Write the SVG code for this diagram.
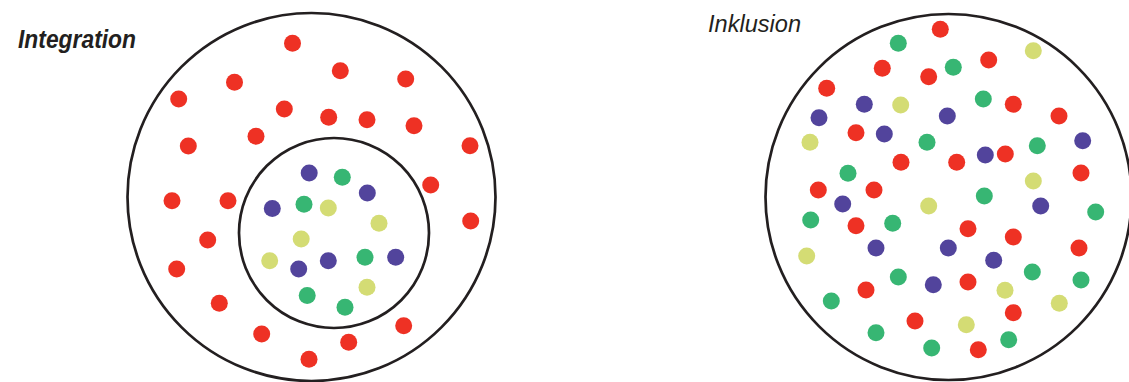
<svg xmlns="http://www.w3.org/2000/svg" width="1129" height="382" viewBox="0 0 1129 382">
<style>
.ring{fill:none;stroke:#231f20;stroke-width:2.7}
.r{fill:#ee3124}
.g{fill:#37b673}
.b{fill:#52449c}
.y{fill:#d4dc74}
.t{font-family:"Liberation Sans",Arial,sans-serif;fill:#231f20;font-style:italic}
</style>
<rect width="1129" height="382" fill="#ffffff"/>
<g id="integration">
<text class="t" x="18" y="48" font-size="26" font-weight="bold" textLength="118" lengthAdjust="spacingAndGlyphs">Integration</text>
<circle class="ring" cx="311.5" cy="197" r="184"/>
<circle class="ring" cx="334" cy="233" r="95"/>
<g id="int-red">
<circle class="r" cx="292.5" cy="43.3" r="8.5"/>
<circle class="r" cx="234.5" cy="82.3" r="8.5"/>
<circle class="r" cx="178.7" cy="99" r="8.5"/>
<circle class="r" cx="284.3" cy="109" r="8.5"/>
<circle class="r" cx="256" cy="136.2" r="8.5"/>
<circle class="r" cx="188.3" cy="146" r="8.5"/>
<circle class="r" cx="172" cy="200.8" r="8.5"/>
<circle class="r" cx="228" cy="200.8" r="8.5"/>
<circle class="r" cx="340.3" cy="70.7" r="8.5"/>
<circle class="r" cx="405.7" cy="79" r="8.5"/>
<circle class="r" cx="328.7" cy="117.3" r="8.5"/>
<circle class="r" cx="367" cy="119.7" r="8.5"/>
<circle class="r" cx="414" cy="125.7" r="8.5"/>
<circle class="r" cx="470" cy="145.7" r="8.5"/>
<circle class="r" cx="430.7" cy="185" r="8.5"/>
<circle class="r" cx="207.7" cy="240" r="8.5"/>
<circle class="r" cx="176.7" cy="269" r="8.5"/>
<circle class="r" cx="219.3" cy="303.3" r="8.5"/>
<circle class="r" cx="261.7" cy="334" r="8.5"/>
<circle class="r" cx="309" cy="359.3" r="8.5"/>
<circle class="r" cx="470.7" cy="221" r="8.5"/>
<circle class="r" cx="403.7" cy="325.7" r="8.5"/>
<circle class="r" cx="348.7" cy="342.3" r="8.5"/>
</g>
<g id="int-inner">
<circle class="b" cx="309.2" cy="173" r="8.5"/>
<circle class="b" cx="272.3" cy="208.5" r="8.5"/>
<circle class="b" cx="367.3" cy="193" r="8.5"/>
<circle class="b" cx="298.7" cy="269" r="8.5"/>
<circle class="b" cx="328.3" cy="260.7" r="8.5"/>
<circle class="b" cx="395.7" cy="257.3" r="8.5"/>
<circle class="g" cx="342.3" cy="177.3" r="8.5"/>
<circle class="g" cx="304" cy="204.2" r="8.5"/>
<circle class="g" cx="307.2" cy="295.5" r="8.5"/>
<circle class="g" cx="365" cy="257.3" r="8.5"/>
<circle class="g" cx="345" cy="307.3" r="8.5"/>
<circle class="y" cx="328.3" cy="208" r="8.5"/>
<circle class="y" cx="379" cy="223.3" r="8.5"/>
<circle class="y" cx="301.2" cy="239" r="8.5"/>
<circle class="y" cx="269.7" cy="260.7" r="8.5"/>
<circle class="y" cx="367" cy="287.3" r="8.5"/>
</g>
</g>
<g id="inklusion">
<text class="t" x="708" y="32" font-size="24" textLength="93" lengthAdjust="spacingAndGlyphs">Inklusion</text>
<circle class="ring" cx="948.5" cy="197" r="183"/>
<g id="ink-red">
<circle class="r" cx="940.3" cy="29.3" r="8.5"/>
<circle class="r" cx="882.3" cy="68.3" r="8.5"/>
<circle class="r" cx="928.7" cy="76.7" r="8.5"/>
<circle class="r" cx="988.7" cy="60" r="8.5"/>
<circle class="r" cx="826.7" cy="88.3" r="8.5"/>
<circle class="r" cx="856" cy="132.7" r="8.5"/>
<circle class="r" cx="1013.3" cy="104.3" r="8.5"/>
<circle class="r" cx="1059" cy="116" r="8.5"/>
<circle class="r" cx="901" cy="162.3" r="8.5"/>
<circle class="r" cx="956.7" cy="162.3" r="8.5"/>
<circle class="r" cx="1005.3" cy="154" r="8.5"/>
<circle class="r" cx="1081" cy="173" r="8.5"/>
<circle class="r" cx="818.3" cy="190" r="8.5"/>
<circle class="r" cx="874" cy="190" r="8.5"/>
<circle class="r" cx="856" cy="225.7" r="8.5"/>
<circle class="r" cx="968" cy="228.7" r="8.5"/>
<circle class="r" cx="1013.3" cy="237" r="8.5"/>
<circle class="r" cx="1079" cy="248" r="8.5"/>
<circle class="r" cx="866" cy="290" r="8.5"/>
<circle class="r" cx="968" cy="282" r="8.5"/>
<circle class="r" cx="1013.3" cy="312.7" r="8.5"/>
<circle class="r" cx="915" cy="321" r="8.5"/>
<circle class="r" cx="978.3" cy="349.7" r="8.5"/>
</g>
<g id="ink-green">
<circle class="g" cx="898.3" cy="43.3" r="8.5"/>
<circle class="g" cx="953.3" cy="67.3" r="8.5"/>
<circle class="g" cx="983.3" cy="99" r="8.5"/>
<circle class="g" cx="927" cy="142.3" r="8.5"/>
<circle class="g" cx="1037.3" cy="145.7" r="8.5"/>
<circle class="g" cx="848" cy="173.3" r="8.5"/>
<circle class="g" cx="984.3" cy="196" r="8.5"/>
<circle class="g" cx="1095.7" cy="212" r="8.5"/>
<circle class="g" cx="810.7" cy="220" r="8.5"/>
<circle class="g" cx="892.7" cy="223.3" r="8.5"/>
<circle class="g" cx="898.3" cy="277" r="8.5"/>
<circle class="g" cx="1032.3" cy="272" r="8.5"/>
<circle class="g" cx="1081" cy="280" r="8.5"/>
<circle class="g" cx="831.3" cy="301" r="8.5"/>
<circle class="g" cx="876" cy="332.7" r="8.5"/>
<circle class="g" cx="931.7" cy="348" r="8.5"/>
<circle class="g" cx="1008.7" cy="339.7" r="8.5"/>
</g>
<g id="ink-blue">
<circle class="b" cx="864.3" cy="104.3" r="8.5"/>
<circle class="b" cx="819" cy="117.7" r="8.5"/>
<circle class="b" cx="947.3" cy="116" r="8.5"/>
<circle class="b" cx="884.3" cy="134" r="8.5"/>
<circle class="b" cx="985.3" cy="155" r="8.5"/>
<circle class="b" cx="1082.7" cy="140.7" r="8.5"/>
<circle class="b" cx="842.7" cy="204" r="8.5"/>
<circle class="b" cx="1040.7" cy="206" r="8.5"/>
<circle class="b" cx="876" cy="248" r="8.5"/>
<circle class="b" cx="948.3" cy="248" r="8.5"/>
<circle class="b" cx="993.7" cy="260.3" r="8.5"/>
<circle class="b" cx="933.3" cy="284.7" r="8.5"/>
</g>
<g id="ink-yellow">
<circle class="y" cx="1033.3" cy="50.7" r="8.5"/>
<circle class="y" cx="900.7" cy="105" r="8.5"/>
<circle class="y" cx="810" cy="142.3" r="8.5"/>
<circle class="y" cx="1033.3" cy="181" r="8.5"/>
<circle class="y" cx="928.7" cy="206" r="8.5"/>
<circle class="y" cx="806.7" cy="256" r="8.5"/>
<circle class="y" cx="1005" cy="290.3" r="8.5"/>
<circle class="y" cx="1059.3" cy="303.3" r="8.5"/>
<circle class="y" cx="966.3" cy="324.7" r="8.5"/>
</g>
</g>
</svg>
